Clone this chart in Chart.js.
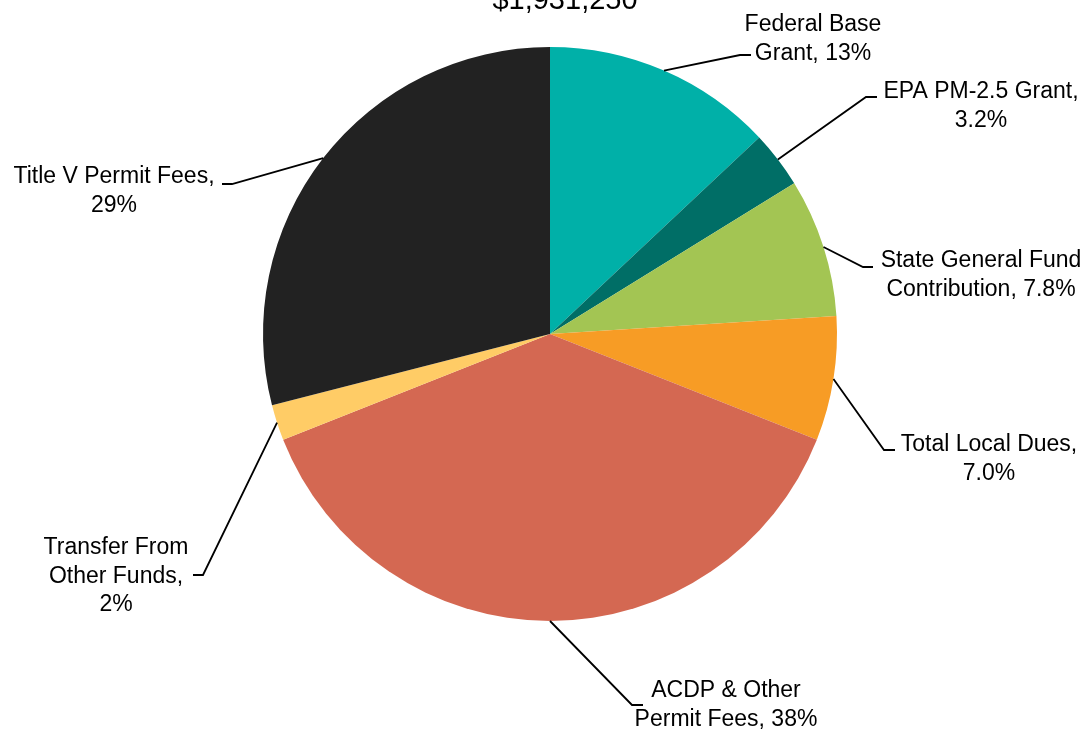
<!DOCTYPE html>
<html>
<head>
<meta charset="utf-8">
<title>Revenue Sources</title>
<script src="https://cdn.jsdelivr.net/npm/chart.js@4/dist/chart.umd.min.js"></script>
<style>
  html, body { margin: 0; padding: 0; background: #ffffff; }
  #wrap { width: 1086px; height: 729px; overflow: hidden; }
  canvas { display: block; }
</style>
</head>
<body>
<div id="wrap"><canvas id="pie" width="1086" height="729"></canvas></div>
<script>
// Revenue sources (share of total, in percent)
const categories = [
  'Federal Base Grant',
  'EPA PM-2.5 Grant',
  'State General Fund Contribution',
  'Total Local Dues',
  'ACDP & Other Permit Fees',
  'Transfer From Other Funds',
  'Title V Permit Fees'
];
const shares = [13, 3.2, 7.8, 7.0, 38, 2, 29];
const shareDecimals = [0, 1, 1, 1, 0, 0, 0];
const totalLabel = '$1,931,250';

const sliceColors = ['#00B0A8', '#006E66', '#A3C553', '#F79C25', '#D46852', '#FFCC66', '#222222'];

// Words per text line for each wrapped label ("name, pct")
const labelWrap = [[2, 2], [3, 1], [3, 2], [3, 1], [3, 3], [2, 2, 1], [4, 1]];

// Callout geometry in canvas pixels: leader elbow, tick end, text centre x, first baseline
const labelPlacement = [
  { elbow: [740, 55],  tick: [751, 55],  x: 813, y: 31 },
  { elbow: [866, 97],  tick: [877, 97],  x: 981, y: 98 },
  { elbow: [863, 267], tick: [873, 267], x: 981, y: 267 },
  { elbow: [884, 450], tick: [895, 450], x: 989, y: 451 },
  { elbow: [632, 705], tick: [643, 705], x: 726, y: 697 },
  { elbow: [203, 575], tick: [193, 575], x: 116, y: 554 },
  { elbow: [232, 184], tick: [222, 184], x: 114, y: 183 }
];
const LINE_HEIGHT = 28.7;
const LABEL_FONT = '23px "Liberation Sans", Arial, sans-serif';

function labelLines(i) {
  const words = (categories[i] + ', ' + shares[i].toFixed(shareDecimals[i]) + '%').split(' ');
  const lines = [];
  let k = 0;
  for (const n of labelWrap[i]) {
    lines.push(words.slice(k, k + n).join(' '));
    k += n;
  }
  return lines;
}

const calloutPlugin = {
  id: 'callouts',
  afterDatasetsDraw(chart) {
    const ctx = chart.ctx;
    const meta = chart.getDatasetMeta(0);
    ctx.save();
    ctx.strokeStyle = '#000000';
    ctx.lineWidth = 1.8;
    ctx.fillStyle = '#000000';
    ctx.font = LABEL_FONT;
    ctx.textAlign = 'center';
    ctx.textBaseline = 'alphabetic';
    meta.data.forEach((arc, i) => {
      const p = labelPlacement[i];
      const mid = (arc.startAngle + arc.endAngle) / 2;
      const sx = arc.x + Math.cos(mid) * arc.outerRadius;
      const sy = arc.y + Math.sin(mid) * arc.outerRadius;
      ctx.beginPath();
      ctx.moveTo(sx, sy);
      ctx.lineTo(p.elbow[0], p.elbow[1]);
      ctx.lineTo(p.tick[0], p.tick[1]);
      ctx.stroke();
      labelLines(i).forEach((line, j) => {
        ctx.fillText(line, p.x, p.y + j * LINE_HEIGHT);
      });
    });
    ctx.restore();
  }
};

const totalPlugin = {
  id: 'totalHeading',
  afterDraw(chart) {
    const ctx = chart.ctx;
    ctx.save();
    ctx.fillStyle = '#000000';
    ctx.font = '29px "Liberation Sans", Arial, sans-serif';
    ctx.textAlign = 'center';
    ctx.textBaseline = 'alphabetic';
    ctx.fillText(totalLabel, 565, 8.5);
    ctx.restore();
  }
};

new Chart(document.getElementById('pie'), {
  type: 'pie',
  data: {
    labels: categories,
    datasets: [{
      data: shares,
      backgroundColor: sliceColors,
      borderWidth: 0,
      offset: 0,
      hoverOffset: 0
    }]
  },
  options: {
    responsive: false,
    animation: false,
    events: [],
    devicePixelRatio: 1,
    layout: { padding: { left: 263, right: 249, top: 47, bottom: 108 } },
    plugins: {
      legend: { display: false },
      tooltip: { enabled: false },
      title: { display: false }
    }
  },
  plugins: [calloutPlugin, totalPlugin]
});
</script>
</body>
</html>
